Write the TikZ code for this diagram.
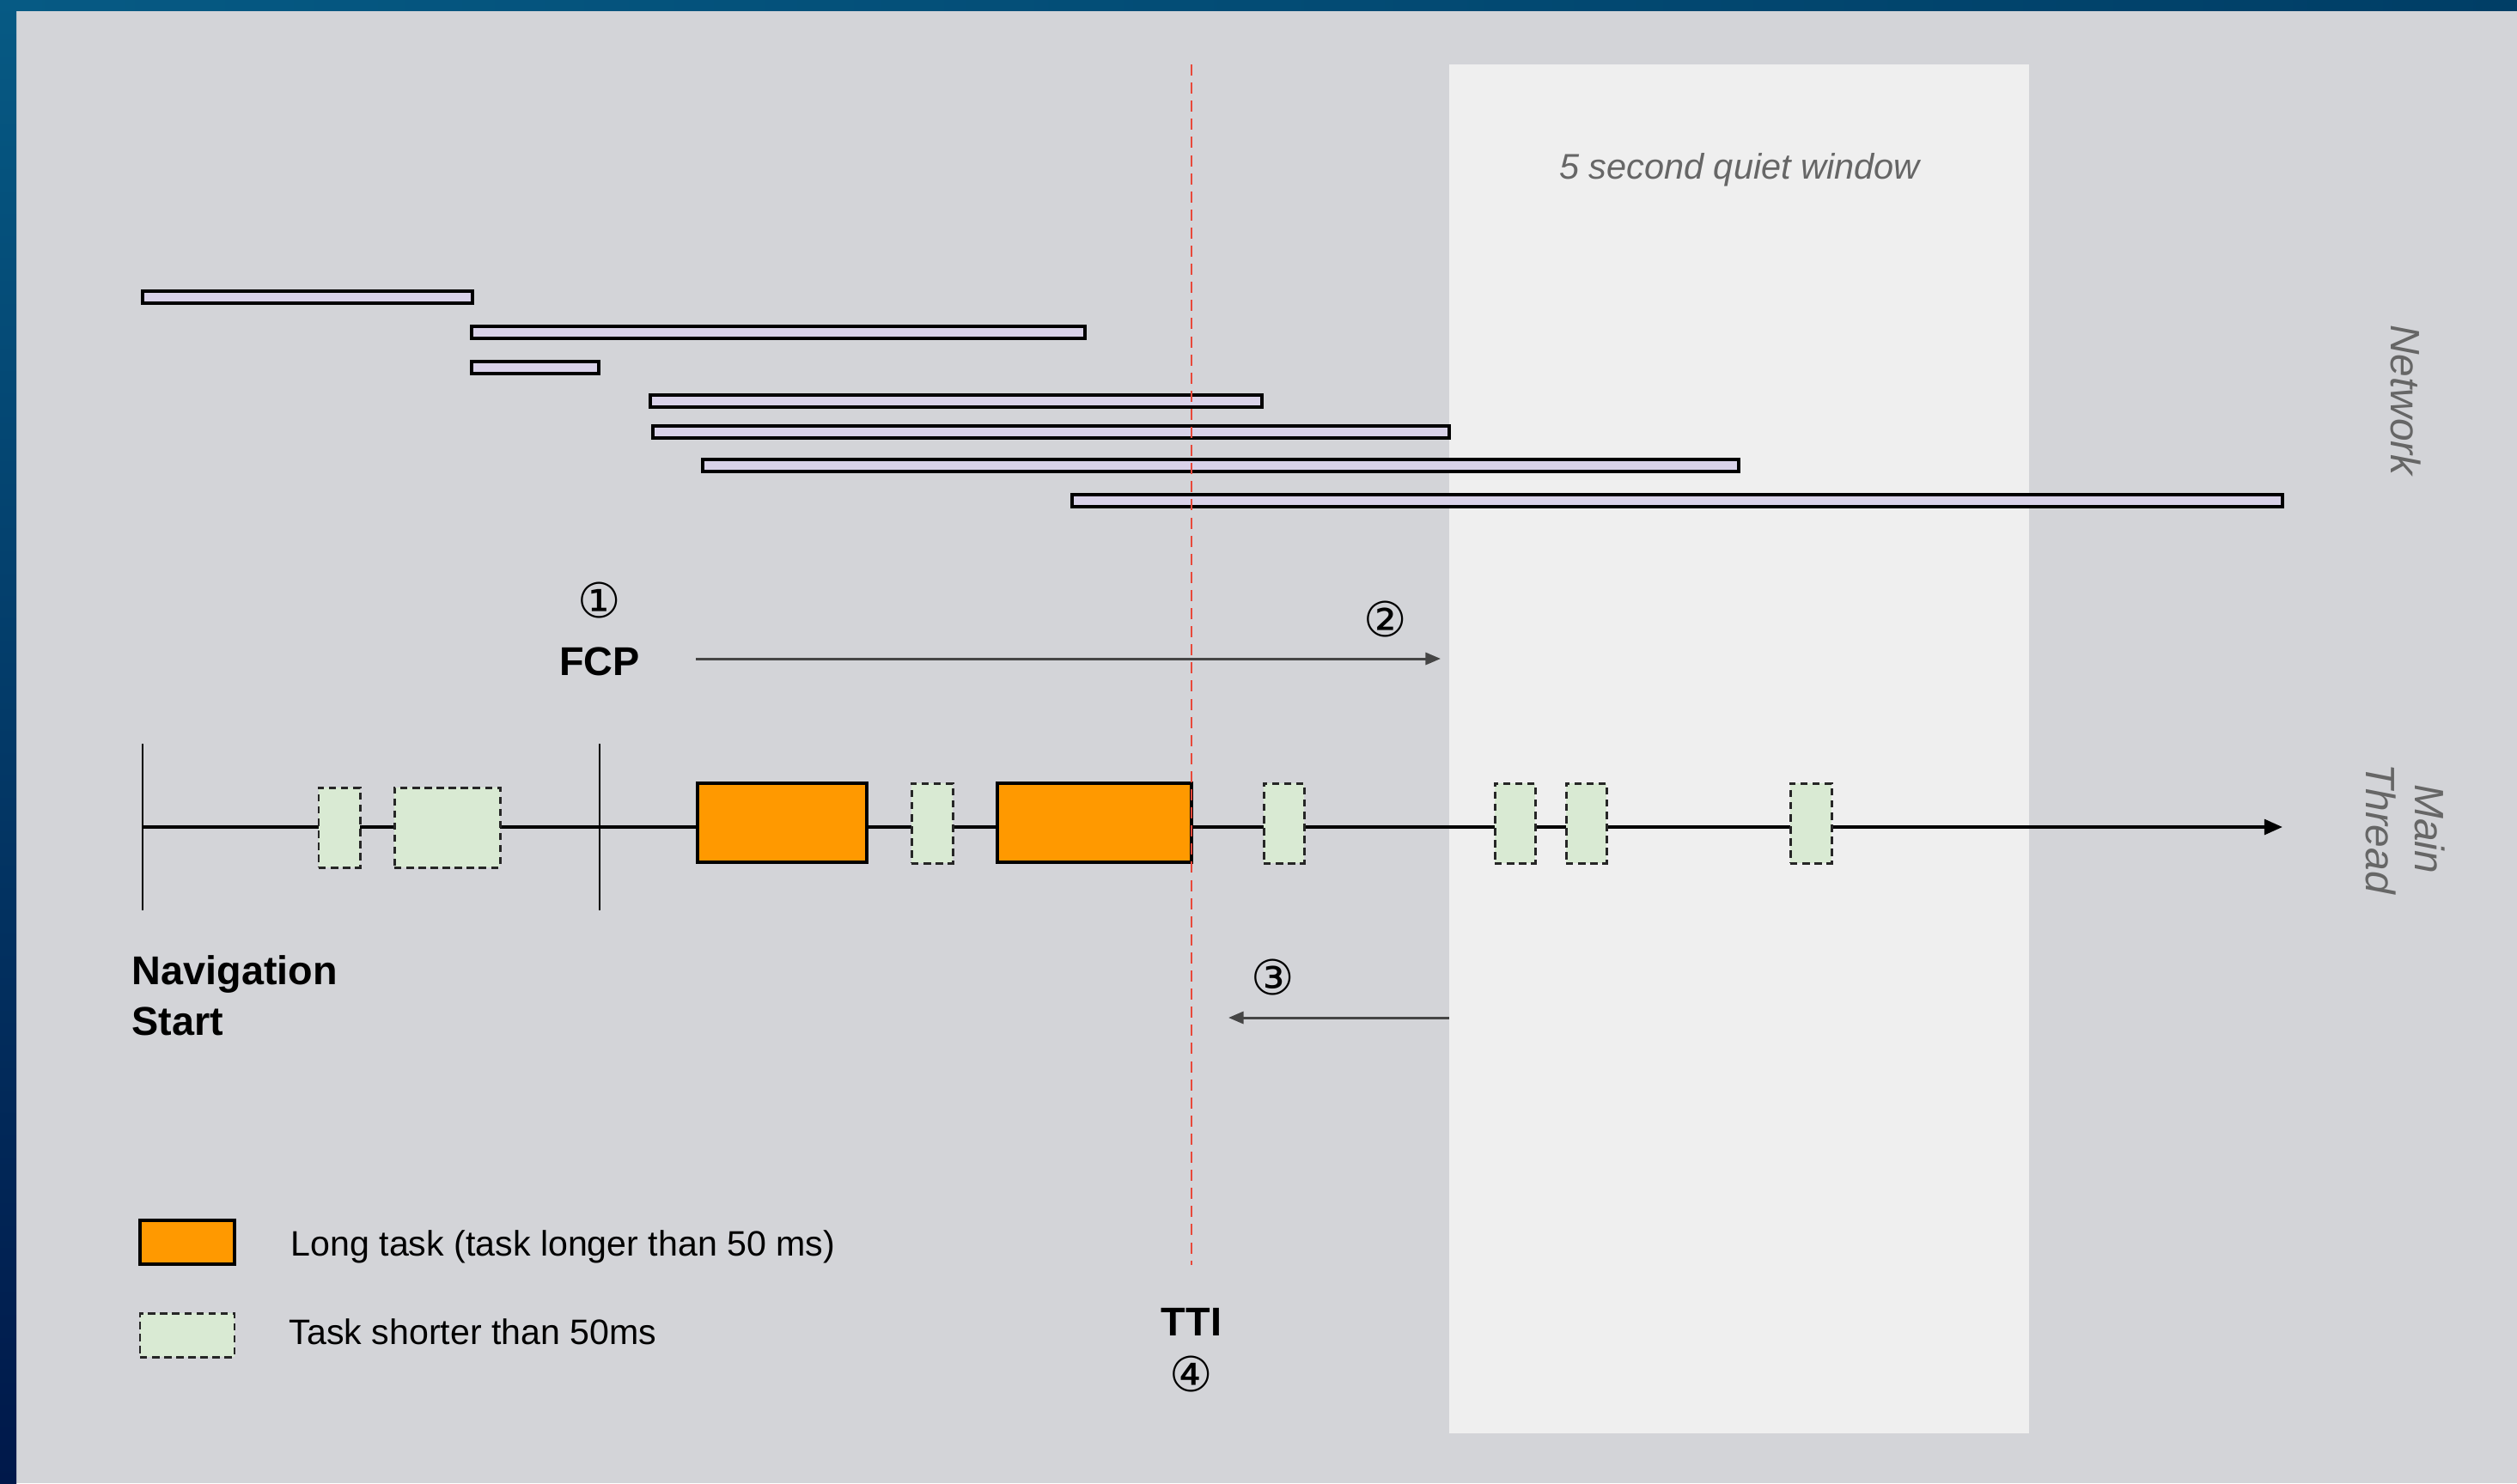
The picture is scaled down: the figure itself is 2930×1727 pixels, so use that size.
\documentclass[tikz,border=0pt]{standalone}
\usepackage{fontspec}
\setmainfont{Liberation Sans}
\newfontfamily\circfont{DejaVu Sans}
\usetikzlibrary{arrows.meta,fit}
\definecolor{bgray}{HTML}{D3D4D8}
\definecolor{qwin}{HTML}{EFEFEF}
\definecolor{lav}{HTML}{D9D2E9}
\definecolor{orng}{HTML}{FF9900}
\definecolor{lgreen}{HTML}{D9EAD3}
\definecolor{tgray}{HTML}{666666}
\definecolor{agray}{HTML}{454545}
\definecolor{tred}{HTML}{E8483A}
\definecolor{blueA}{HTML}{065A84}
\definecolor{blueB}{HTML}{00184A}
\definecolor{blueC}{HTML}{003E66}
\begin{document}
\begin{tikzpicture}[x=0.01cm,y=-0.01cm,
  netbar/.style={draw=black, line width=1.05pt, fill=lav, inner sep=0pt},
  longtask/.style={draw=black, line width=0.9pt, fill=orng, inner sep=0pt},
  shorttask/.style={draw=black!85, line width=0.85pt, dash pattern=on 2.4pt off 1.6pt, fill=lgreen, inner sep=0pt},
  tickline/.style={line width=0.7pt, draw=black},
  boldlab/.style={font=\fontsize{13.3}{16.5}\selectfont\bfseries, inner sep=0pt},
  circ/.style={font=\circfont\fontsize{16}{18}\selectfont, inner sep=0pt},
  side/.style={font=\fontsize{13.6}{16.2}\selectfont\itshape, text=tgray, inner sep=0pt, rotate=-90, align=center},
  legtext/.style={font=\fontsize{11.7}{14}\selectfont, inner sep=0pt, anchor=base west},
  ptr/.style={draw=agray, line width=0.85pt, -{Triangle[length=5pt,width=4pt]}},
  mainline/.style={draw=black, line width=1.1pt, -{Triangle[length=6pt,width=5pt]}},
  ttiline/.style={draw=tred, line width=0.55pt, dash pattern=on 3.7pt off 2.3pt}
]
\useasboundingbox (0,0) rectangle (2930,1727);
% background
\fill[bgray] (0,0) rectangle (2930,1727);
\shade[top color=blueA, bottom color=blueB] (0,0) rectangle (19,1727);
\shade[left color=blueA, right color=blueC] (0,0) rectangle (2930,12);
% quiet window
\node[fill=qwin, inner sep=0pt, fit={(1687,75)(2362,1669)}] (qw) {};
\node[font=\fontsize{11.8}{14}\selectfont\itshape, text=tgray, inner sep=0pt, anchor=base] (qwt) at (2025,208) {5 second quiet window};
% network bars
\node[netbar, fit={(166,339)(550,353)}] (n1) {};
\node[netbar, fit={(549,380)(1263,394)}] (n2) {};
\node[netbar, fit={(549,421)(697,435)}] (n3) {};
\node[netbar, fit={(757,460)(1469,474)}] (n4) {};
\node[netbar, fit={(760,496)(1687,510)}] (n5) {};
\node[netbar, fit={(818,535)(2024,549)}] (n6) {};
\node[netbar, fit={(1248,576)(2657,590)}] (n7) {};
\node[side] (net) at (2801,466) {Network};
\node[side] (mt) at (2800,965) {Main\\Thread};
% main thread
\coordinate (mstart) at (166,963);
\coordinate (mend) at (2657,963);
\draw[mainline] (mstart) -- (mend);
\coordinate (nsT) at (166,866);
\coordinate (nsB) at (166,1060);
\coordinate (fcT) at (698,866);
\coordinate (fcB) at (698,1060);
\draw[tickline] (nsT) -- (nsB);
\draw[tickline] (fcT) -- (fcB);
\node[shorttask, fit={(371,917)(419,1010)}] (s1) {};
\node[shorttask, fit={(459,917)(582,1010)}] (s2) {};
\node[longtask, fit={(812,912)(1009,1004)}] (l1) {};
\node[shorttask, fit={(1061,912)(1109,1005)}] (s3) {};
\node[longtask, fit={(1161,912)(1387,1004)}] (l2) {};
\node[shorttask, fit={(1471,912)(1518,1005)}] (s4) {};
\node[shorttask, fit={(1740,912)(1787,1005)}] (s5) {};
\node[shorttask, fit={(1823,912)(1870,1005)}] (s6) {};
\node[shorttask, fit={(2084,912)(2132,1005)}] (s7) {};
% labels
\node[circ] (c1) at (698,699) {①};
\node[boldlab, anchor=base] (fcp) at (698,786) {FCP};
\coordinate (a2s) at (810,767);
\coordinate (a2e) at (1677,767);
\draw[ptr] (a2s) -- (a2e);
\node[circ] (c2) at (1613,721) {②};
\node[boldlab, anchor=base west, align=left] (nav) at (153,1205) {Navigation\\Start};
\coordinate (a3s) at (1687,1185);
\coordinate (a3e) at (1430,1185);
\draw[ptr] (a3s) -- (a3e);
\node[circ] (c3) at (1482,1138) {③};
% TTI
\coordinate (ttT) at (1387,75);
\coordinate (ttB) at (1387,1473);
\draw[ttiline] (ttT) -- (ttB);
\node[boldlab, anchor=base] (tti) at (1387,1555) {TTI};
\node[circ] (c4) at (1387,1600) {④};
% legend
\node[longtask, fit={(163,1421)(273,1472)}] (kl) {};
\node[shorttask, fit={(163,1529)(273,1580)}] (ks) {};
\node[legtext] (klt) at (338,1462) {Long task (task longer than 50 ms)};
\node[legtext] (kst) at (336,1565) {Task shorter than 50ms};
\end{tikzpicture}
\end{document}
